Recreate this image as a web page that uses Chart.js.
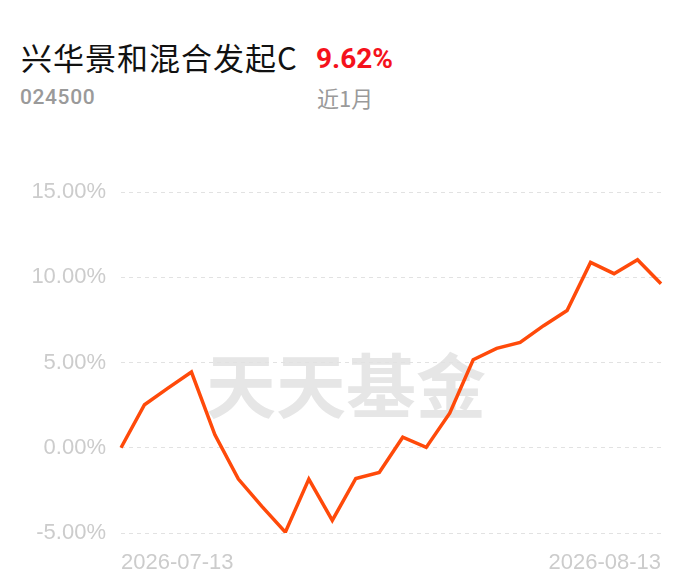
<!DOCTYPE html>
<html>
<head>
<meta charset="utf-8">
<script src="https://cdn.jsdelivr.net/npm/chart.js@4/dist/chart.umd.min.js"></script>
<style>
  body { margin: 0; width: 690px; height: 585px; background: #fff; position: relative; overflow: hidden; }
  #titulo { position: absolute; left: 21px; top: 36px; font-family: "Noto Sans CJK SC", sans-serif; font-size: 31px; letter-spacing: 1px; color: #111; line-height: 42px; }
  #valor { position: absolute; left: 316px; top: 39px; font-family: Roboto, sans-serif; font-weight: bold; font-size: 28px; color: #f5121c; line-height: 40px; }
  #codigo { position: absolute; left: 20px; top: 82px; font-family: Roboto, sans-serif; font-weight: 500; font-size: 21px; letter-spacing: 0.6px; color: #9a9a9a; line-height: 30px; }
  #periodo { position: absolute; left: 317px; top: 81px; font-family: "Noto Sans CJK SC", sans-serif; font-size: 22px; color: #9a9a9a; line-height: 32px; }
  #marca { position: absolute; left: 206px; top: 338px; font-family: "Noto Sans CJK SC", sans-serif; font-weight: bold; font-size: 70px; color: #e6e6e6; line-height: 90px; }
  #caja { position: absolute; left: 0; top: 150px; width: 690px; height: 435px; }
</style>
</head>
<body>
<div id="titulo">兴华景和混合发起C</div>
<div id="valor">9.62%</div>
<div id="codigo">024500</div>
<div id="periodo">近1月</div>
<div id="marca">天天基金</div>
<div id="caja"><canvas id="grafico"></canvas></div>
<script>
// fechas (dias habiles del ultimo mes)
var fechas = ["2026-07-13","2026-07-14","2026-07-15","2026-07-16","2026-07-17",
  "2026-07-20","2026-07-21","2026-07-22","2026-07-23","2026-07-24",
  "2026-07-27","2026-07-28","2026-07-29","2026-07-30","2026-07-31",
  "2026-08-03","2026-08-04","2026-08-05","2026-08-06","2026-08-07",
  "2026-08-10","2026-08-11","2026-08-12","2026-08-13"];
// rendimiento acumulado en %
var rendimiento = [0.0, 2.52, 3.5, 4.44, 0.76, -1.84, -3.44, -4.95, -1.84, -4.26, -1.80, -1.45,
  0.62, 0.02, 2.03, 5.16, 5.83, 6.18, 7.16, 8.05, 10.87, 10.21, 11.03, 9.62];
var ticksY = [-5, 0, 5, 10, 15];

var gris = "#cccccc";
var ctx = document.getElementById("grafico");
var lineChart = new Chart(ctx, {
  type: "line",
  data: {
    labels: fechas,
    datasets: [{
      data: rendimiento,
      borderColor: "#ff4a0a",
      borderWidth: 3.5,
      pointRadius: 0,
      tension: 0,
      fill: false
    }]
  },
  options: {
    responsive: true,
    maintainAspectRatio: false,
    animation: false,
    layout: { padding: { top: 42, right: 29, left: 0, bottom: 0 } },
    plugins: { legend: { display: false }, tooltip: { enabled: false } },
    scales: {
      x: {
        offset: false,
        grid: { display: false },
        border: { display: false },
        afterFit: function (scale) { scale.height = 52; },
        ticks: {
          autoSkip: false,
          maxRotation: 0,
          align: "inner",
          padding: 9,
          color: gris,
          font: { family: "Liberation Sans", size: 22 },
          callback: function (val, i) {
            if (i == 0 || i == fechas.length - 1) { return fechas[i]; }
            return "";
          }
        }
      },
      y: {
        min: ticksY[0],
        max: ticksY[ticksY.length - 1],
        afterFit: function (scale) { scale.width = 121; },
        afterBuildTicks: function (scale) {
          scale.ticks = ticksY.map(function (v) { return { value: v }; });
        },
        grid: { color: "#e2e2e2", lineWidth: 1, drawTicks: false },
        border: { display: false, dash: [4, 4] },
        ticks: {
          padding: 15,
          color: gris,
          font: { family: "Liberation Sans", size: 22 },
          callback: function (v) { return v.toFixed(2) + "%"; }
        }
      }
    }
  }
});
</script>
</body>
</html>
